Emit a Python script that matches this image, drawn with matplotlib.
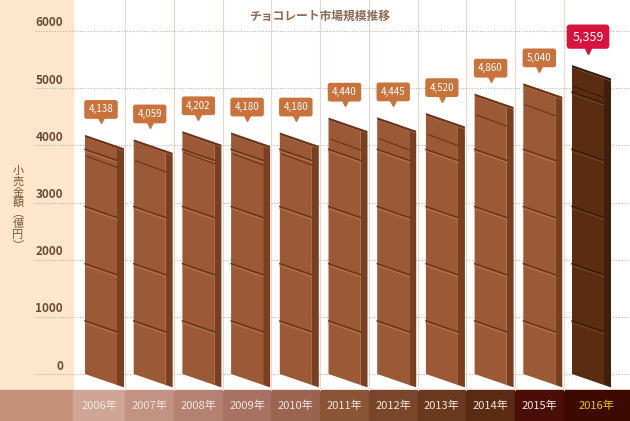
import matplotlib
matplotlib.use('Agg')
from matplotlib import pyplot as plt
from matplotlib.patches import Polygon, Rectangle

plt.rcParams['font.family'] = ['Noto Sans CJK JP', 'DejaVu Sans']

years = ['2006年', '2007年', '2008年', '2009年', '2010年', '2011年',
         '2012年', '2013年', '2014年', '2015年', '2016年']
values = [4138, 4059, 4202, 4180, 4180, 4440, 4445, 4520, 4860, 5040, 5359]
labels = ['4,138', '4,059', '4,202', '4,180', '4,180', '4,440',
          '4,445', '4,520', '4,860', '5,040', '5,359']
yticks = [0, 1000, 2000, 3000, 4000, 5000, 6000]
band_colors = ['#cfa596', '#c29282', '#b58272', '#a87262', '#9a6450', '#8a5436',
               '#7a4629', '#6a381d', '#5a2a12', '#4a0e06', '#3e0a00']

PX = 1 / 48.7           # idx units per pixel
VPX = 1000 / 57.17      # value units per pixel
K = 293                 # top slope (value per idx)

fig = plt.figure(figsize=(6.3, 4.21), dpi=100)
ax = fig.add_axes([0, 0, 1, 1])
ax.set_xlim(-101 * PX, 529 * PX)
ax.set_ylim(-47 * VPX, 6000 + 31 * VPX)
ax.axis('off')

x0, x1 = ax.get_xlim()
y0, y1 = ax.get_ylim()
band_top = -16 * VPX

# cream left panel and bottom band
ax.add_patch(Rectangle((x0, band_top), -0.575 - x0, y1 - band_top, color='#fde6cb', zorder=0))
ax.add_patch(Rectangle((x0, y0), -0.575 - x0, band_top - y0, color='#c4907a', zorder=1))
edges = [-0.575] + [i + 0.5 for i in range(len(years) - 1)] + [x1]
for i, yr in enumerate(years):
    ax.add_patch(Rectangle((edges[i], y0), edges[i + 1] - edges[i], band_top - y0,
                           color=band_colors[i], zorder=1))
    ax.text((edges[i] + edges[i + 1]) / 2, (y0 + band_top) / 2, yr, ha='center', va='center',
            fontsize=8, color='#e8c800' if i == len(years) - 1 else '#f4e6de', zorder=5)
    if i > 0:
        ax.plot([edges[i], edges[i]], [band_top, y1], color='#ead8cf', lw=0.8, zorder=1)

# grid + ticks
for t in yticks:
    ax.plot([-66 * PX, x1], [t, t], color='#b9b0aa', lw=0.8, ls=(0, (1, 1.5)), zorder=1)
    ax.text(-38 * PX, t + 8 * VPX, str(t), ha='right', va='center', fontsize=8.5,
            fontweight='bold', color='#6a4a30', zorder=5)

ax.text(-83 * PX, 2900, '小\n売\n金\n額\n︵\n億\n円\n︶', ha='center', va='center',
        fontsize=8, color='#7a5535', linespacing=1.05, zorder=5)
ax.text(219 * PX, 6000 + 15 * VPX, 'チョコレート市場規模推移', ha='center', va='center',
        fontsize=8.5, fontweight='bold', color='#8a6a55', zorder=5)

# bars
for i, v in enumerate(values):
    last = i == len(values) - 1
    front = '#5a2c12' if last else '#9b5a35'
    side = '#40200b' if last else '#7b3f1f'
    top = '#3a1a08' if last else '#6e3417'
    L, R, S = i - 16 * PX, i + 16 * PX, i + 23 * PX
    w, ws = R - L, S - L
    ax.add_patch(Polygon([(L, v), (R, v - K * w), (R, -K * w), (L, 0)],
                         closed=True, fc=front, ec='none', zorder=3))
    ax.add_patch(Polygon([(R, v - K * w), (S, v - K * ws), (S, -K * ws), (R, -K * w)],
                         closed=True, fc=side, ec='none', zorder=3))
    ax.add_patch(Polygon([(L, v), (L, v + 45), (S, v + 45 - K * ws), (S, v - K * ws)],
                         closed=True, fc=top, ec='none', zorder=3))
    g = 930
    while g < v - 150:
        ax.plot([L, R], [g, g - K * w], color='#3a1a08' if last else '#6a3318', lw=1, zorder=4)
        ax.plot([L, R], [g - 35, g - 35 - K * w], color='#7a4a2a' if last else '#b87a52', lw=0.6, zorder=4)
        g += 1000
    ax.plot([L + 2 * PX, R], [v - 330, v - 330 - K * w], color='#3a1a08' if last else '#6a3318', lw=0.8, zorder=4)

    box = '#d8123f' if last else '#c8733c'
    ty = v + (31 if last else 28) * VPX
    ax.text(i, ty, labels[i], ha='center', va='center', fontsize=9 if last else 7,
            color='white', zorder=6,
            bbox=dict(boxstyle='round,pad=0.45,rounding_size=0.25', fc=box, ec='none'))
    ax.plot(i, ty - (14 if last else 11) * VPX, marker='v', ms=5, color=box, zorder=6)

fig.savefig('out.png', dpi=100)
